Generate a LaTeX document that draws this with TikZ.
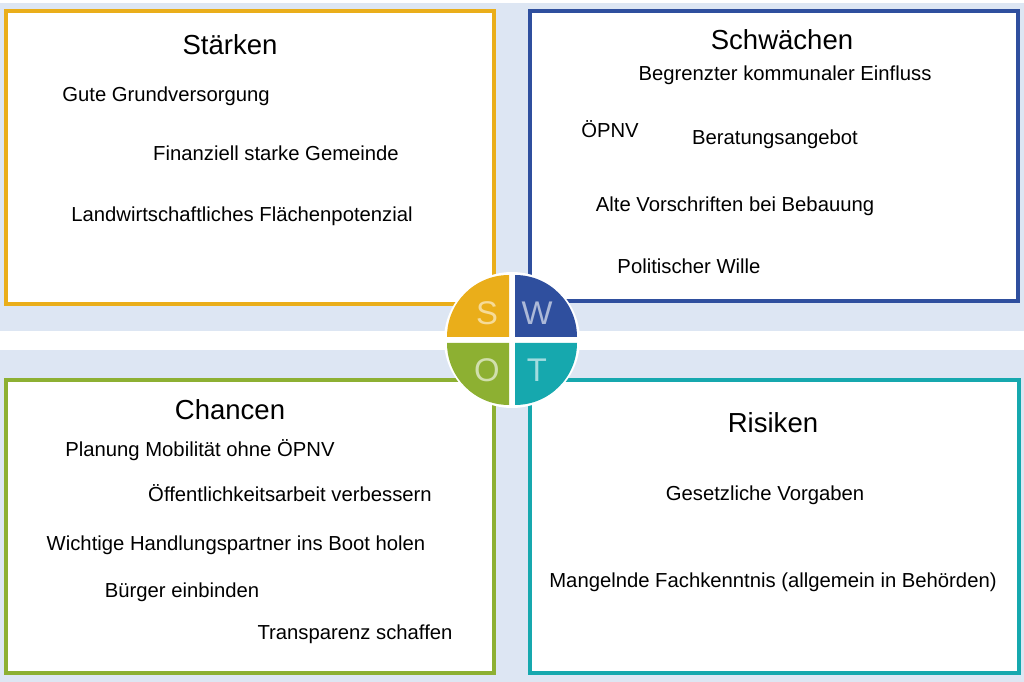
\documentclass[tikz,border=0pt]{standalone}
\usepackage{fontspec}
\setmainfont{Liberation Sans}
\definecolor{bgb}{HTML}{DDE6F3}
\definecolor{cS}{HTML}{EAAE1A}
\definecolor{cW}{HTML}{2F4F9E}
\definecolor{cO}{HTML}{8DB032}
\definecolor{cT}{HTML}{16A8AE}
\begin{document}
\begin{tikzpicture}[x=0.03cm,y=-0.03cm,
 box/.style={draw=#1,line width=3.5pt,fill=white},
 ttl/.style={font=\fontsize{23.5}{26}\selectfont},
 itm/.style={font=\fontsize{17.3}{20}\selectfont}]
\fill[bgb] (0,0) rectangle (1024,682);
\fill[white] (0,331) rectangle (1024,350);
\fill[white] (0,0) rectangle (1024,3);
\draw[box=cS] (6,11) rectangle (494,304);
\draw[box=cW] (530,11) rectangle (1018,301);
\draw[box=cO] (6,380) rectangle (494,673);
\draw[box=cT] (530,380) rectangle (1019,673);
\node[ttl] (ts) at (230,45) {Stärken};
\node[itm] (s1) at (166,96) {Gute Grundversorgung};
\node[itm] (s2) at (276,153) {Finanziell starke Gemeinde};
\node[itm] (s3) at (242,216) {Landwirtschaftliches Flächenpotenzial};
\node[ttl] (tw) at (782,40) {Schwächen};
\node[itm] (w1) at (785,75) {Begrenzter kommunaler Einfluss};
\node[itm] (w2) at (610,129) {ÖPNV};
\node[itm] (w3) at (775,139) {Beratungsangebot};
\node[itm] (w4) at (735,206) {Alte Vorschriften bei Bebauung};
\node[itm] (w5) at (689,266) {Politischer Wille};
\node[ttl] (to) at (230,410) {Chancen};
\node[itm] (o1) at (200,450) {Planung Mobilität ohne ÖPNV};
\node[itm] (o2) at (290,493) {Öffentlichkeitsarbeit verbessern};
\node[itm] (o3) at (236,545) {Wichtige Handlungspartner ins Boot holen};
\node[itm] (o4) at (182,592) {Bürger einbinden};
\node[itm] (o5) at (355,634) {Transparenz schaffen};
\node[ttl] (tr) at (773,423) {Risiken};
\node[itm] (r1) at (765,495) {Gesetzliche Vorgaben};
\node[itm] (r2) at (773,582) {Mangelnde Fachkenntnis (allgemein in Behörden)};
\coordinate (c) at (512,340);
\fill[white] (c) circle[radius=68];
\fill[cS] (c) ++(-3,-3) -- ++(-62,0) arc[start angle=180,end angle=270,radius=62] -- cycle;
\fill[cW] (c) ++(3,-3) -- ++(0,-62) arc[start angle=270,end angle=360,radius=62] -- cycle;
\fill[cO] (c) ++(-3,3) -- ++(0,62) arc[start angle=90,end angle=180,radius=62] -- cycle;
\fill[cT] (c) ++(3,3) -- ++(62,0) arc[start angle=0,end angle=90,radius=62] -- cycle;
\begin{scope}[font=\fontsize{28}{30}\selectfont]
\node[text=cS!45!white] (ls) at (487,313) {S};
\node[text=cW!40!white] (lw) at (537,313) {W};
\node[text=cO!40!white] (lo) at (487,370) {O};
\node[text=cT!40!white] (lt) at (537,370) {T};
\end{scope}
\end{tikzpicture}
\end{document}
